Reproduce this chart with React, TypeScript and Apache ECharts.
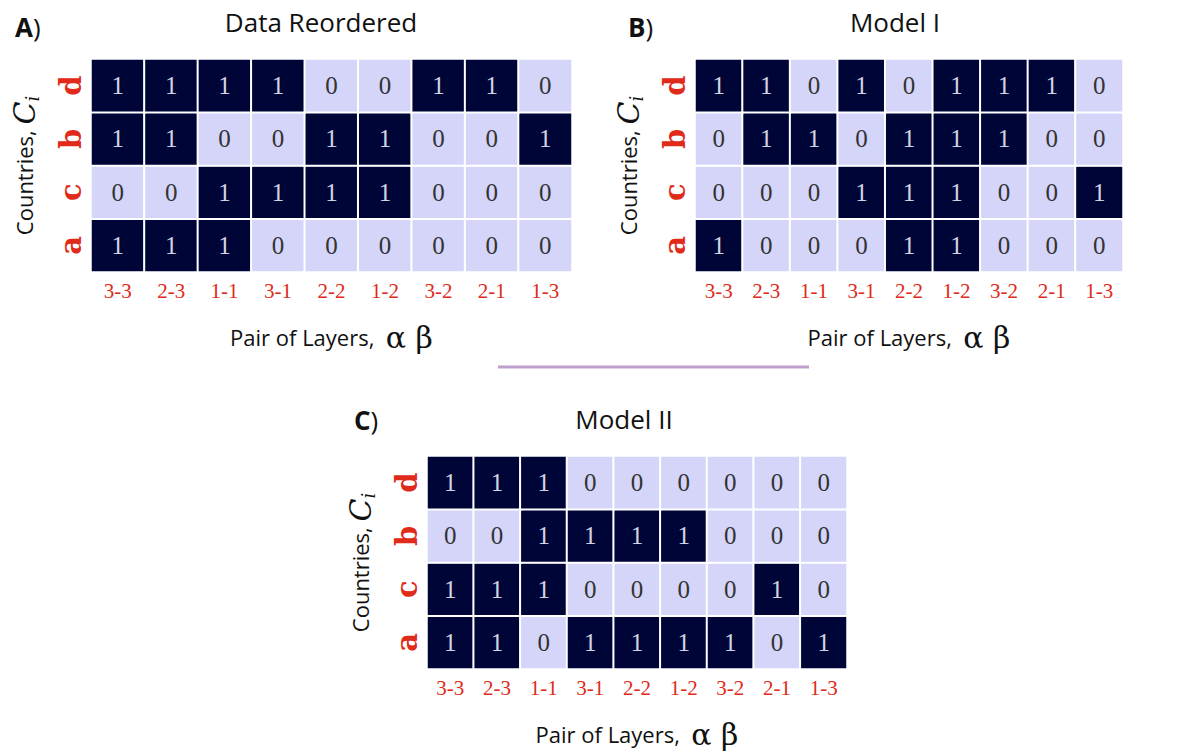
import React, { useEffect, useRef } from "react";
import * as echarts from "echarts";

const layerPairs = ["3-3", "2-3", "1-1", "3-1", "2-2", "1-2", "3-2", "2-1", "1-3"];
const countries = ["a", "c", "b", "d"]; // bottom to top

// rows listed per country (a, c, b, d), values along layerPairs
const dataReorderedA = [1, 1, 1, 0, 0, 0, 0, 0, 0];
const dataReorderedC = [0, 0, 1, 1, 1, 1, 0, 0, 0];
const dataReorderedB = [1, 1, 0, 0, 1, 1, 0, 0, 1];
const dataReorderedD = [1, 1, 1, 1, 0, 0, 1, 1, 0];

const modelIA = [1, 0, 0, 0, 1, 1, 0, 0, 0];
const modelIC = [0, 0, 0, 1, 1, 1, 0, 0, 1];
const modelIB = [0, 1, 1, 0, 1, 1, 1, 0, 0];
const modelID = [1, 1, 0, 1, 0, 1, 1, 1, 0];

const modelIIA = [1, 1, 0, 1, 1, 1, 1, 0, 1];
const modelIIC = [1, 1, 1, 0, 0, 0, 0, 1, 0];
const modelIIB = [0, 0, 1, 1, 1, 1, 0, 0, 0];
const modelIID = [1, 1, 1, 0, 0, 0, 0, 0, 0];

const panelTitles = ["Data Reordered", "Model I", "Model II"];
const panelLetters = ["A", "B", "C"];

const DARK = "#000538";
const LIGHT = "#d5d5fa";
const RED = "#e02a1a";

function buildData(rows: number[][]) {
  const out: any[] = [];
  rows.forEach((row, yi) => {
    row.forEach((v, xi) => {
      out.push({
        value: [xi, yi, v],
        label: { color: v === 1 ? "#d4d4e4" : "#333333" },
      });
    });
  });
  return out;
}

export default function App() {
  const ref = useRef<HTMLDivElement>(null);
  useEffect(() => {
    if (!ref.current) return;
    const chart = echarts.init(ref.current, undefined, { renderer: "svg" });
    const panels = [
      [dataReorderedA, dataReorderedC, dataReorderedB, dataReorderedD],
      [modelIA, modelIC, modelIB, modelID],
      [modelIIA, modelIIC, modelIIB, modelIID],
    ];
    const grids = [
      { left: 91, top: 59, width: 481, height: 213 },
      { left: 695, top: 59, width: 428, height: 213 },
      { left: 427, top: 456, width: 420, height: 213 },
    ];
    const titlePos = [
      { x: 321, y: 22 },
      { x: 895, y: 22 },
      { x: 624, y: 419 },
    ];
    const letterPos = [
      { x: 15, y: 27 },
      { x: 628, y: 27 },
      { x: 354, y: 420 },
    ];

    const xAxes = grids.map((_, i) => ({
      type: "category",
      gridIndex: i,
      data: layerPairs,
      axisLine: { show: false },
      axisTick: { show: false },
      splitLine: { show: false },
      axisLabel: {
        color: RED,
        fontFamily: "Liberation Serif",
        fontSize: 21,
        margin: 8,
      },
      name: "Pair of Layers,  {g|α β}",
      nameLocation: "middle",
      nameGap: 50,
      nameTextStyle: {
        fontFamily: "Open Sans",
        fontSize: 22,
        color: "#111",
        rich: {
          g: { fontFamily: "DejaVu Serif", fontSize: 30, color: "#111" },
        },
      },
    }));

    const yAxes = grids.map((_, i) => ({
      type: "category",
      gridIndex: i,
      data: countries,
      axisLine: { show: false },
      axisTick: { show: false },
      splitLine: { show: false },
      axisLabel: {
        color: RED,
        fontFamily: "DejaVu Serif",
        fontWeight: "bold",
        fontSize: 29,
        rotate: 90,
        margin: 6,
      },
      name: "Countries, {c|C}{s|i}",
      nameLocation: "middle",
      nameRotate: 90,
      nameGap: 50,
      nameTextStyle: {
        fontFamily: "Open Sans",
        fontSize: 22,
        color: "#111",
        rich: {
          c: { fontFamily: "DejaVu Serif", fontStyle: "italic", fontSize: 30, color: "#111" },
          s: { fontFamily: "DejaVu Serif", fontStyle: "italic", fontSize: 18, color: "#111", padding: [16, 0, 0, 0] },
        },
      },
    }));

    const series = panels.map((rows, i) => ({
      type: "heatmap",
      xAxisIndex: i,
      yAxisIndex: i,
      data: buildData(rows),
      itemStyle: { borderColor: "#ffffff", borderWidth: 2 },
      label: {
        show: true,
        fontFamily: "Liberation Serif",
        fontSize: 25,
        formatter: (p: any) => String(p.value[2]),
      },
      emphasis: { disabled: true },
    }));

    const graphic: any[] = [];
    titlePos.forEach((p, i) => {
      graphic.push({
        type: "text",
        x: p.x,
        y: p.y,
        style: {
          text: panelTitles[i],
          fontFamily: "Open Sans",
          fontSize: 26,
          fill: "#111",
          align: "center",
          verticalAlign: "middle",
        },
      });
    });
    letterPos.forEach((p, i) => {
      graphic.push({
        type: "text",
        x: p.x,
        y: p.y,
        style: {
          text: "{b|" + panelLetters[i] + "})",
          fontFamily: "Open Sans",
          fontSize: 26,
          fill: "#111",
          verticalAlign: "middle",
          rich: { b: { fontFamily: "Open Sans", fontWeight: "bold", fontSize: 26, fill: "#111" } },
        },
      });
    });
    graphic.push({
      type: "line",
      shape: { x1: 498, y1: 367, x2: 809, y2: 367 },
      style: { stroke: "#bf9fcb", lineWidth: 3 },
    });

    chart.setOption({
      animation: false,
      backgroundColor: "#ffffff",
      grid: grids.map((g) => ({ ...g, containLabel: false })),
      xAxis: xAxes,
      yAxis: yAxes,
      visualMap: {
        type: "piecewise",
        show: false,
        dimension: 2,
        seriesIndex: [0, 1, 2],
        pieces: [
          { value: 0, color: LIGHT },
          { value: 1, color: DARK },
        ],
      },
      series,
      graphic,
    });
    return () => chart.dispose();
  }, []);
  return (
    <div
      ref={ref}
      style={{ position: "absolute", left: 0, top: 0, width: 1189, height: 753 }}
    />
  );
}
